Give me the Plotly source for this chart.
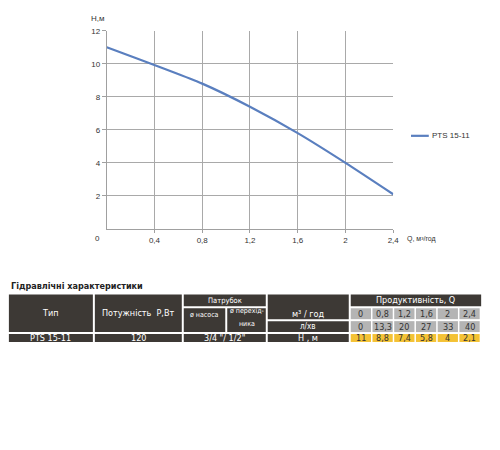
import plotly.graph_objects as go

# ---- data ----
q_m3h = [0, 0.8, 1.2, 1.6, 2, 2.4]
q_lmin = [0, 13.3, 20, 27, 33, 40]
head_m = [11, 8.8, 7.4, 5.8, 4, 2.1]
series_name = "PTS 15-11"
x_ticks = [0.4, 0.8, 1.2, 1.6, 2, 2.4]
y_ticks = [2, 4, 6, 8, 10, 12]
pump_type = "PTS 15-11"
power_w = "120"
connection = "3/4 \"/ 1/2\""

W, H = 500, 450


def px(x):
    return x / W


def py(y):
    return 1 - y / H


def fmt(v):
    return f"{v:g}".replace(".", ",")


fig = go.Figure()
fig.add_trace(go.Scatter(
    x=q_m3h, y=head_m, mode="lines", name=series_name,
    line=dict(color="#5a7fbf", width=2.2, shape="spline", smoothing=0.6),
    showlegend=False,
))

axis_font = dict(family="Liberation Sans, Arial", size=8, color="#333333")
fig.update_layout(
    width=W, height=H, margin=dict(l=0, r=0, t=0, b=0),
    paper_bgcolor="white", plot_bgcolor="white",
    xaxis=dict(domain=[px(108), px(398)], range=[0, 2.4], tickvals=x_ticks,
               ticktext=[fmt(v) for v in x_ticks], showgrid=True,
               gridcolor="#a9a9a9", gridwidth=1, showline=True,
               linecolor="#a0a0a0", linewidth=1, ticks="outside", ticklen=3,
               tickcolor="#a0a0a0", tickfont=axis_font, zeroline=False,
               fixedrange=True),
    yaxis=dict(domain=[py(227), py(27)], range=[0, 12], tickvals=y_ticks,
               ticktext=[fmt(v) for v in y_ticks], showgrid=True,
               gridcolor="#a9a9a9", gridwidth=1, showline=True,
               linecolor="#a0a0a0", linewidth=1, ticks="outside", ticklen=4,
               tickcolor="#a0a0a0", tickfont=axis_font, zeroline=False,
               fixedrange=True),
    showlegend=False,
)

shapes = []
ann = []


def text(x, y, s, size=8, color="#333333", xanchor="center", bold=False,
         family="Liberation Sans Narrow, DejaVu Sans Condensed, Arial"):
    if bold:
        s = f"<b>{s}</b>"
    ann.append(dict(x=px(x), y=py(y), xref="paper", yref="paper", text=s,
                    showarrow=False, xanchor=xanchor, yanchor="middle",
                    font=dict(family=family, size=size, color=color)))


def rect(x0, y0, x1, y1, color):
    shapes.append(dict(type="rect", xref="paper", yref="paper",
                       x0=px(x0), x1=px(x1), y0=py(y1), y1=py(y0),
                       fillcolor=color, line=dict(width=0), layer="above"))


# chart texts
text(99, 237, "0", size=8, family="Liberation Sans, Arial", xanchor="center")
text(410, 237, "Q, м³/год", size=7, family="Liberation Sans, Arial", xanchor="left")
text(90, 15, "Н,м", size=8, family="Liberation Sans, Arial", xanchor="left")
# legend
shapes.append(dict(type="line", xref="paper", yref="paper", x0=px(416), x1=px(434),
                   y0=py(133), y1=py(133), line=dict(color="#5a7fbf", width=2.2)))
text(435, 133, series_name, size=8, family="Liberation Sans, Arial", xanchor="left")

# table
DARK = "#3d3935"
GRAY = "#b4b4b4"
YEL = "#f4c234"
text(9, 285, "Гідравлічні характеристики", size=9, color="#222222",
     xanchor="left", bold=True)

rect(9, 293, 94, 331, DARK)
rect(96, 293, 184, 331, DARK)
rect(186, 293, 269, 305, DARK)
rect(186, 307, 228, 331, DARK)
rect(230, 307, 269, 331, DARK)
rect(271, 293, 353, 318, DARK)
rect(271, 320, 353, 331, DARK)
rect(355, 293, 487, 305, DARK)
rect(9, 333, 94, 341, DARK)
rect(96, 333, 184, 341, DARK)
rect(186, 333, 269, 341, DARK)
rect(271, 333, 353, 341, DARK)

text(51.5, 312, "Тип", size=9, color="white")
text(140, 312, "Потужність  P,Вт", size=9, color="white")
text(227.5, 299, "Патрубок", size=7.5, color="white")
text(207, 314, "ø насоса", size=7, color="white")
text(249.5, 310, "ø перехід-", size=7, color="white")
text(249.5, 323, "ника", size=7, color="white")
text(312, 313, "м³ / год", size=9, color="white")
text(312, 325.5, "л/хв", size=8, color="white")
text(312, 337, "Н , м", size=9, color="white")
text(51.5, 337, pump_type, size=9, color="white")
text(140, 337, power_w, size=9, color="white")
text(227.5, 337, connection, size=9, color="white")
text(421, 299, "Продуктивність, Q", size=9, color="white")

for i in range(len(q_m3h)):
    x0 = 355 + 22 * i
    x1 = x0 + 20.5
    xc = (x0 + x1) / 2
    rect(x0, 307, x1, 318, GRAY)
    rect(x0, 320, x1, 331, GRAY)
    rect(x0, 333, x1, 341, YEL)
    text(xc, 312.5, fmt(q_m3h[i]), size=9)
    text(xc, 325.5, fmt(q_lmin[i]), size=9)
    text(xc, 337, fmt(head_m[i]), size=9)

fig.update_layout(shapes=shapes, annotations=ann)
fig.write_html("out.html")
